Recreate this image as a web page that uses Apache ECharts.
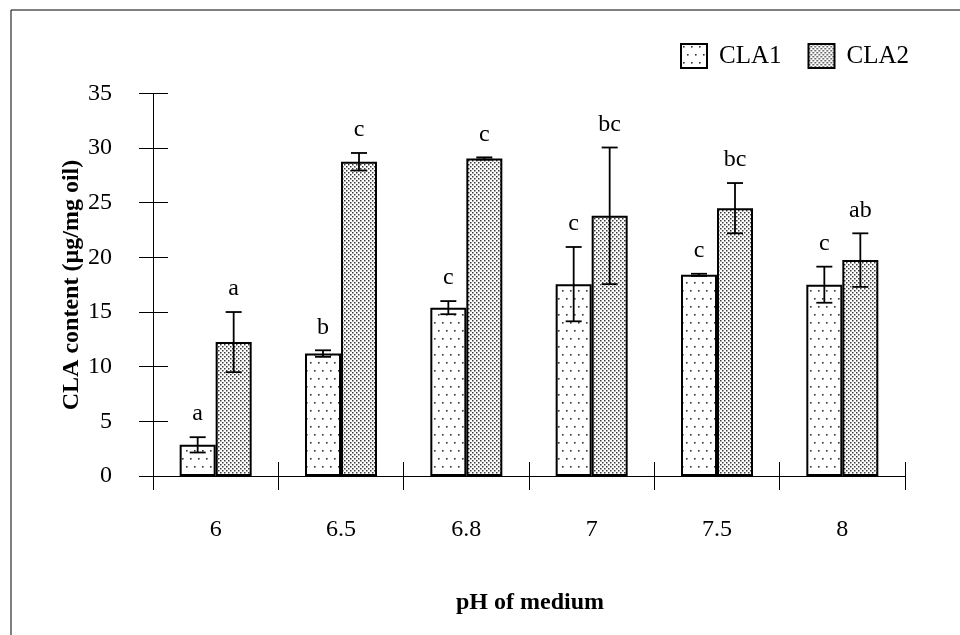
<!DOCTYPE html>
<html>
<head>
<meta charset="utf-8">
<script src="https://cdn.jsdelivr.net/npm/echarts@6/dist/echarts.min.js"></script>
<style>
  html, body { margin: 0; padding: 0; background: #fff; }
  #chart { width: 960px; height: 635px; }
</style>
</head>
<body>
<div id="chart"></div>
<script>
// pH levels of the medium
const categories = ['6', '6.5', '6.8', '7', '7.5', '8'];
// CLA content (µg/mg oil), mean and error
const cla1 = [2.85, 11.2, 15.4, 17.55, 18.4, 17.5];
const cla1Err = [0.7, 0.3, 0.6, 3.4, 0.1, 1.65];
const cla2 = [12.25, 28.75, 29.05, 23.8, 24.5, 19.75];
const cla2Err = [2.75, 0.8, 0.1, 6.25, 2.3, 2.45];
// significance letters
const cla1Letters = ['a', 'b', 'c', 'c', 'c', 'c'];
const cla2Letters = ['a', 'c', 'c', 'bc', 'bc', 'ab'];
// value axis ticks
const yMin = 0, yMax = 35, yStep = 5;

const FONT = '"Liberation Serif", "DejaVu Serif", serif';
const BAR_W = 36;

function makePattern(w, h, bg, dots, r, color) {
  const c = document.createElement('canvas');
  c.width = w; c.height = h;
  const g = c.getContext('2d');
  g.fillStyle = bg; g.fillRect(0, 0, w, h);
  g.fillStyle = color;
  dots.forEach(function (d) {
    g.fillRect(d[0], d[1], r, r);
  });
  return c;
}
const sparse = makePattern(8, 16, '#ffffff', [[2, 2], [6, 10]], 1.6, '#333');
const dense = makePattern(4, 4, '#ffffff', [[0, 0], [2, 2]], 1.5, '#3a3a3a');

function errorSeries(values, errs, letters, sign) {
  return {
    type: 'custom',
    z: 5,
    data: values.map(function (v, i) { return [i, v, errs[i]]; }),
    renderItem: function (params, api) {
      const i = api.value(0), v = api.value(1), e = api.value(2);
      const x = api.coord([i, v])[0] + sign * BAR_W / 2;
      const yt = api.coord([i, v + e])[1];
      const yb = api.coord([i, v - e])[1];
      const st = { stroke: '#000', lineWidth: 1.8 };
      return {
        type: 'group',
        children: [
          { type: 'line', shape: { x1: x, y1: yt, x2: x, y2: yb }, style: st },
          { type: 'line', shape: { x1: x - 8, y1: yt, x2: x + 8, y2: yt }, style: st },
          { type: 'line', shape: { x1: x - 8, y1: yb, x2: x + 8, y2: yb }, style: st },
          {
            type: 'text',
            style: {
              x: x, y: yt - 23, text: letters[params.dataIndex],
              font: '24px ' + FONT, fill: '#000',
              align: 'center', verticalAlign: 'middle'
            }
          }
        ]
      };
    }
  };
}

const chart = echarts.init(document.getElementById('chart'), null, { renderer: 'canvas' });
chart.setOption({
  animation: false,
  backgroundColor: '#fff',
  grid: { left: 153, right: 55, top: 93.4, bottom: 159, containLabel: false },
  legend: {
    left: 680, top: 43, padding: 0,
    itemWidth: 26, itemHeight: 24, itemGap: 26,
    icon: 'rect',
    textStyle: { fontFamily: FONT, fontSize: 25, color: '#000', padding: [0, 0, 0, 7] },
    data: ['CLA1', 'CLA2']
  },
  xAxis: [{
    type: 'category', data: categories,
    axisLine: { lineStyle: { color: '#000', width: 1 } },
    axisTick: { show: true, length: 14, lineStyle: { color: '#000' } },
    axisLabel: { margin: 42, fontFamily: FONT, fontSize: 24, color: '#000' },
    splitLine: { show: false }
  }, {
    type: 'category', data: categories, position: 'bottom',
    axisLine: { show: false },
    axisTick: { show: true, inside: true, length: 14, lineStyle: { color: '#000' } },
    axisLabel: { show: false },
    splitLine: { show: false }
  }],
  yAxis: [{
    type: 'value', min: yMin, max: yMax, interval: yStep,
    axisLine: { show: true, lineStyle: { color: '#000', width: 1 } },
    axisTick: { show: true, length: 14, lineStyle: { color: '#000' } },
    axisLabel: { margin: 41, fontFamily: FONT, fontSize: 24, color: '#000' },
    splitLine: { show: false }
  }, {
    type: 'value', min: yMin, max: yMax, interval: yStep, position: 'left',
    axisLine: { show: false },
    axisTick: { show: true, inside: true, length: 15, lineStyle: { color: '#000' } },
    axisLabel: { show: false },
    splitLine: { show: false }
  }],
  series: [{
    name: 'CLA1', type: 'bar', data: cla1, barWidth: BAR_W, barGap: '0%',
    itemStyle: { color: { image: sparse, repeat: 'repeat' }, borderColor: '#000', borderWidth: 2 }
  }, {
    name: 'CLA2', type: 'bar', data: cla2, barWidth: BAR_W, barGap: '0%',
    itemStyle: { color: { image: dense, repeat: 'repeat' }, borderColor: '#000', borderWidth: 2 }
  },
    errorSeries(cla1, cla1Err, cla1Letters, -1),
    errorSeries(cla2, cla2Err, cla2Letters, 1)
  ],
  graphic: [{
    type: 'rect', silent: true,
    shape: { x: 11, y: 10, width: 1000, height: 700 },
    style: { fill: 'none', stroke: '#000', lineWidth: 1 }
  }, {
    type: 'text', x: 72, y: 285, rotation: Math.PI / 2,
    style: {
      text: 'CLA content (µg/mg oil)', font: 'bold 24px ' + FONT,
      fill: '#000', align: 'center', verticalAlign: 'middle'
    }
  }, {
    type: 'text', x: 530, y: 603,
    style: {
      text: 'pH of medium', font: 'bold 24px ' + FONT,
      fill: '#000', align: 'center', verticalAlign: 'middle'
    }
  }]
});
</script>
</body>
</html>
